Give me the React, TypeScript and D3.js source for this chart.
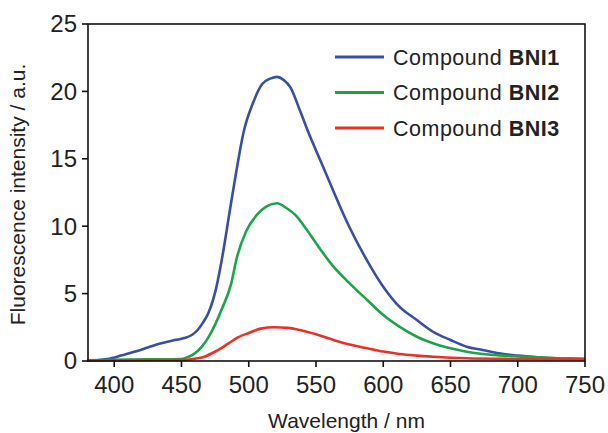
import React from "react";
import * as d3 from "d3";

const wlBNI1 = [380, 395, 405, 415, 425, 435, 445, 452, 458, 462, 466, 470, 476, 481, 486, 491, 496, 503, 510, 516, 521, 526, 531, 538, 545, 551, 557, 563, 569, 575, 588, 600, 612, 625, 637, 650, 662, 674, 686, 700, 715, 733, 750];
const valBNI1 = [0.02, 0.15, 0.4, 0.69, 1.0, 1.31, 1.55, 1.7, 1.95, 2.3, 2.85, 3.56, 5.5, 8.1, 11.2, 14.2, 16.9, 19.1, 20.55, 20.95, 21.08, 20.85, 20.3, 18.6, 16.8, 15.4, 14.0, 12.6, 11.2, 9.9, 7.45, 5.51, 4.03, 3.04, 2.17, 1.56, 1.06, 0.82, 0.57, 0.4, 0.28, 0.18, 0.12];

const wlBNI2 = [380, 424, 450, 455, 460, 465, 470, 475, 480, 487, 491, 498, 506, 513, 521, 528, 535, 543, 551, 563, 575, 588, 600, 612, 625, 637, 650, 662, 674, 686, 700, 715, 733, 750];
const valBNI2 = [0.05, 0.12, 0.15, 0.3, 0.57, 1.05, 1.75, 2.7, 3.85, 5.76, 7.6, 9.6, 10.84, 11.45, 11.7, 11.35, 10.8, 9.75, 8.6, 7.0, 5.76, 4.53, 3.41, 2.55, 1.8, 1.31, 0.94, 0.69, 0.52, 0.42, 0.34, 0.27, 0.2, 0.17];

const wlBNI3 = [380, 450, 460, 467, 476, 485, 492, 500, 509, 519, 529, 538, 550, 563, 575, 588, 600, 612, 625, 637, 662, 686, 715, 750];
const valBNI3 = [0.05, 0.07, 0.17, 0.32, 0.75, 1.31, 1.75, 2.08, 2.4, 2.5, 2.46, 2.3, 1.98, 1.56, 1.22, 0.94, 0.7, 0.52, 0.4, 0.32, 0.2, 0.16, 0.14, 0.14];

const seriesNames = ["BNI1", "BNI2", "BNI3"];
const seriesColors = ["#3a4fa3", "#1ea34b", "#ea3126"];
const xTicks = [400, 450, 500, 550, 600, 650, 700, 750];
const yTicks = [0, 5, 10, 15, 20, 25];

const FONT = "'Liberation Sans', Arial, Helvetica, sans-serif";

export default function App() {
  const W = 608, H = 433;
  const left = 88, right = 585, top = 24, bottom = 361;
  const x = d3.scaleLinear().domain([380.5, 750]).range([left, right]);
  const y = d3.scaleLinear().domain([0, 25]).range([bottom, top]);
  const line = d3
    .line<[number, number]>()
    .x((d) => x(d[0]))
    .y((d) => y(d[1]))
    .curve(d3.curveMonotoneX);

  const series = [
    { wl: wlBNI1, v: valBNI1 },
    { wl: wlBNI2, v: valBNI2 },
    { wl: wlBNI3, v: valBNI3 },
  ];

  return (
    <div style={{ position: "fixed", left: 0, top: 0, width: W, height: H, background: "#fff" }}>
      <svg width={W} height={H} style={{ display: "block", fontFamily: FONT }}>
        <rect x={0} y={0} width={W} height={H} fill="#fff" />
        {series.map((s, i) => (
          <path
            key={i}
            d={line(s.wl.map((w, j) => [w, s.v[j]] as [number, number])) || ""}
            fill="none"
            stroke={seriesColors[i]}
            strokeWidth={2.6}
            strokeLinejoin="round"
          />
        ))}
        {/* frame */}
        <rect x={left} y={top} width={right - left} height={bottom - top} fill="none" stroke="#111" strokeWidth={1.6} />
        {/* y ticks */}
        {yTicks.map((t) => (
          <g key={"y" + t}>
            <line x1={left - 6} x2={left} y1={y(t)} y2={y(t)} stroke="#111" strokeWidth={1.6} />
            <text x={left - 11} y={y(t)} dy="0.35em" textAnchor="end" fontSize={24} fill="#222">
              {t}
            </text>
          </g>
        ))}
        {/* x ticks */}
        {xTicks.map((t) => (
          <g key={"x" + t}>
            <line x1={x(t)} x2={x(t)} y1={bottom} y2={bottom + 6} stroke="#111" strokeWidth={1.6} />
            <text x={x(t)} y={bottom + 32} textAnchor="middle" fontSize={24} fill="#222">
              {t}
            </text>
          </g>
        ))}
        <text x={(left + right) / 2 + 10} y={428} textAnchor="middle" fontSize={21} fill="#222">
          Wavelength / nm
        </text>
        <text
          transform={`translate(25, ${(top + bottom) / 2 + 2}) rotate(-90)`}
          textAnchor="middle"
          fontSize={21}
          fill="#222"
        >
          Fluorescence intensity / a.u.
        </text>
        {/* legend */}
        {seriesNames.map((n, i) => {
          const ly = 57 + i * 35.5;
          return (
            <g key={n}>
              <line x1={335} x2={384} y1={ly} y2={ly} stroke={seriesColors[i]} strokeWidth={3} />
              <text x={393} y={ly} dy="0.36em" fontSize={21.5} letterSpacing={0.5} fill="#222">
                Compound <tspan fontWeight="bold">{n}</tspan>
              </text>
            </g>
          );
        })}
      </svg>
    </div>
  );
}
